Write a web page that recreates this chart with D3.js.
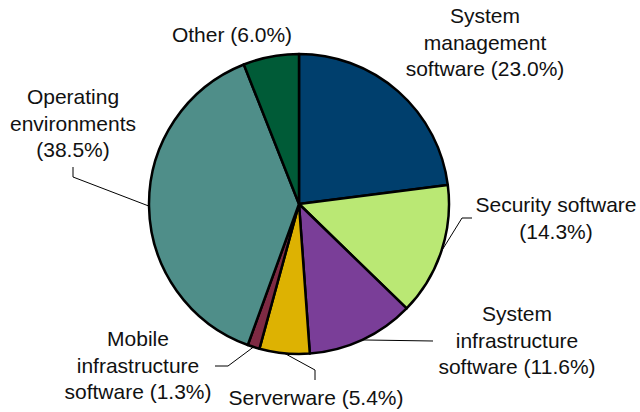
<!DOCTYPE html>
<html>
<head>
<meta charset="utf-8">
<script src="https://cdn.jsdelivr.net/npm/d3@7"></script>
<style>
  html, body { margin: 0; padding: 0; background: #fff; }
  svg { display: block; }
  text { font-family: "Liberation Sans", Arial, sans-serif; font-size: 21px; fill: #111; }
</style>
</head>
<body>
<svg id="chart" width="640" height="412"></svg>
<script>
// Market share by software segment (percent), clockwise from 12 o'clock
const categories = [
  "System management software",
  "Security software",
  "System infrastructure software",
  "Serverware",
  "Mobile infrastructure software",
  "Operating environments",
  "Other"
];
const shares = [23.0, 14.3, 11.6, 5.4, 1.3, 38.5, 6.0];
const colors = ["#003F6D", "#BAE874", "#7A3E98", "#DDB202", "#7E2A43", "#4F8E89", "#005B37"];

// Label text lines per slice
const labelLines = [
  ["System", "management", "software (23.0%)"],
  ["Security software", "(14.3%)"],
  ["System", "infrastructure", "software (11.6%)"],
  ["Serverware (5.4%)"],
  ["Mobile", "infrastructure", "software (1.3%)"],
  ["Operating", "environments", "(38.5%)"],
  ["Other (6.0%)"]
];

const svg = d3.select("#chart");
const cx = 299, cy = 204, R = 150;
const g = svg.append("g").attr("transform", `translate(${cx},${cy})`);

const pie = d3.pie().sort(null).value(d => d.v);
const arcs = pie(categories.map((c, i) => ({ c, v: shares[i], i })));
const arc = d3.arc().innerRadius(0).outerRadius(R);

g.selectAll("path.slice")
  .data(arcs)
  .join("path")
  .attr("class", "slice")
  .attr("d", arc)
  .attr("fill", d => colors[d.data.i])
  .attr("stroke", "#000")
  .attr("stroke-width", 2.5)
  .attr("stroke-linejoin", "round");

// Label placement (page coordinates) and leader elbows
const labelPos = [
  { x: 485, y: 15 },
  { x: 556, y: 204 },
  { x: 517, y: 313 },
  { x: 316, y: 397 },
  { x: 138, y: 338 },
  { x: 73, y: 96 },
  { x: 232, y: 34 }
];
const lineH = 26.5;
const leaders = {
  1: [[462, 218], [472, 218]],
  2: [[433, 341]],
  3: [[315, 370], [315, 380]],
  4: [[228, 366], [215, 366]],
  5: [[73, 177], [73, 167]]
};

// Point on the rim at the middle angle of a slice
function rimPoint(d) {
  const a = (d.startAngle + d.endAngle) / 2;
  return [cx + R * Math.sin(a), cy - R * Math.cos(a)];
}

const line = d3.line();
Object.keys(leaders).forEach(k => {
  const i = +k;
  const pts = [rimPoint(arcs[i])].concat(leaders[i]);
  svg.append("path")
    .attr("d", line(pts))
    .attr("fill", "none")
    .attr("stroke", "#000")
    .attr("stroke-width", 1);
});

labelLines.forEach((lines, i) => {
  const t = svg.append("text")
    .attr("text-anchor", "middle")
    .attr("x", labelPos[i].x)
    .attr("y", labelPos[i].y)
    .attr("dominant-baseline", "central");
  lines.forEach((s, j) => {
    t.append("tspan")
      .attr("x", labelPos[i].x)
      .attr("y", labelPos[i].y + j * lineH)
      .text(s);
  });
});
</script>
</body>
</html>
